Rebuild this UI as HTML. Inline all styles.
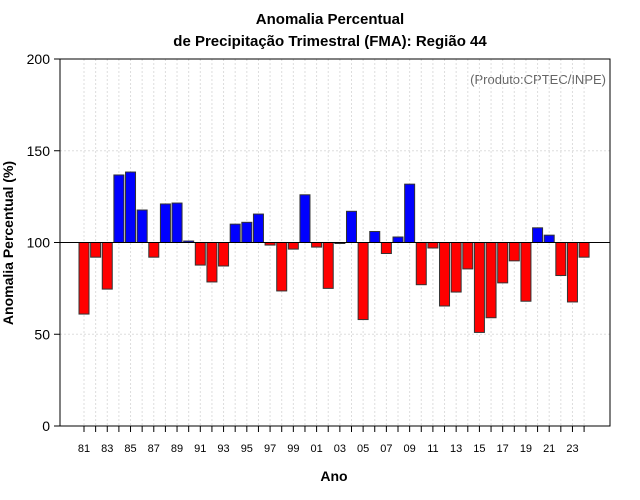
<!DOCTYPE html>
<html><head><meta charset="utf-8"><style>
body{margin:0;background:#fff}
svg{display:block;font-family:"Liberation Sans",sans-serif}
</style></head><body>
<svg id="c" width="640" height="500">
<rect width="640" height="500" fill="#fff"/>
<text x="330" y="24" text-anchor="middle" font-size="15" font-weight="bold">Anomalia Percentual</text>
<text x="330" y="46" text-anchor="middle" font-size="15" font-weight="bold">de Precipitação Trimestral (FMA): Região 44</text>
<text x="606" y="84" text-anchor="end" font-size="13" fill="#666">(Produto:CPTEC/INPE)</text>
<text x="334" y="481" text-anchor="middle" font-size="14" font-weight="bold">Ano</text>
<text transform="translate(13,243) rotate(-90)" text-anchor="middle" font-size="14" font-weight="bold">Anomalia Percentual (%)</text>
<g id="grid"></g><g id="bars"></g><g id="axes"></g>
</svg>
<script>
const years=[81,82,83,84,85,86,87,88,89,90,91,92,93,94,95,96,97,98,99,0,1,2,3,4,5,6,7,8,9,10,11,12,13,14,15,16,17,18,19,20,21,22,23,24];
const values=[61,92,74.6,136.8,138.4,117.7,92,121,121.5,100.8,87.7,78.5,87.2,110,111,115.5,98.6,73.6,96.4,126,97.5,75,99.7,117,58,106,94,103,131.8,77,97,65.4,73,85.6,51,59,78,90,68,108,104,82,67.6,92];
const yTicks=[0,50,100,150,200];
const NS='http://www.w3.org/2000/svg';
const L=60,R=610,T=59,B=426;
const x=i=>84+i*11.63;
const y=v=>B-(v/200)*(B-T);
function mk(t,a,p){const e=document.createElementNS(NS,t);for(const k in a)e.setAttribute(k,a[k]);p.appendChild(e);return e;}
const g=document.getElementById('grid'),b=document.getElementById('bars'),ax=document.getElementById('axes');
years.forEach((yr,i)=>{
 const l=mk('line',{x1:x(i),x2:x(i),y1:T,y2:B,stroke:'#ddd','stroke-dasharray':'2,2'},g);
 
 
});
yTicks.forEach(v=>{
 if(v>0&&v<200){const l=mk('line',{x1:L,x2:R,y1:y(v),y2:y(v),stroke:'#ddd','stroke-dasharray':'2,2'},g);
 
 }
 const tk=mk('line',{x1:L-6,x2:L,y1:y(v),y2:y(v),stroke:'#000'},ax);
 
 
 const t=mk('text',{x:L-10,y:y(v)+5,'text-anchor':'end','font-size':'14'},ax);t.textContent=v;
 
 
});
values.forEach((v,i)=>{
 const y0=y(Math.max(v,100)),y1=y(Math.min(v,100));
 const r=mk('rect',{x:x(i)-5,y:y0,width:10,height:Math.max(y1-y0,1),fill:v>=100?'#0000ff':'#ff0000',stroke:'#333','stroke-width':1},b);
 
 
});
const ref=mk('line',{x1:L,x2:R,y1:y(100),y2:y(100),stroke:'#000'},ax);


const fr=mk('rect',{x:L,y:T,width:R-L,height:B-T,fill:'none',stroke:'#000'},ax);


years.forEach((yr,i)=>{
 const tk=mk('line',{x1:x(i),x2:x(i),y1:B,y2:B+6,stroke:'#000'},ax);
 
 
 if(i%2===0){const t=mk('text',{x:x(i),y:B+26,'text-anchor':'middle','font-size':'11'},ax);t.textContent=String(yr).padStart(2,'0');
 
 }
});
</script>
</body></html>
